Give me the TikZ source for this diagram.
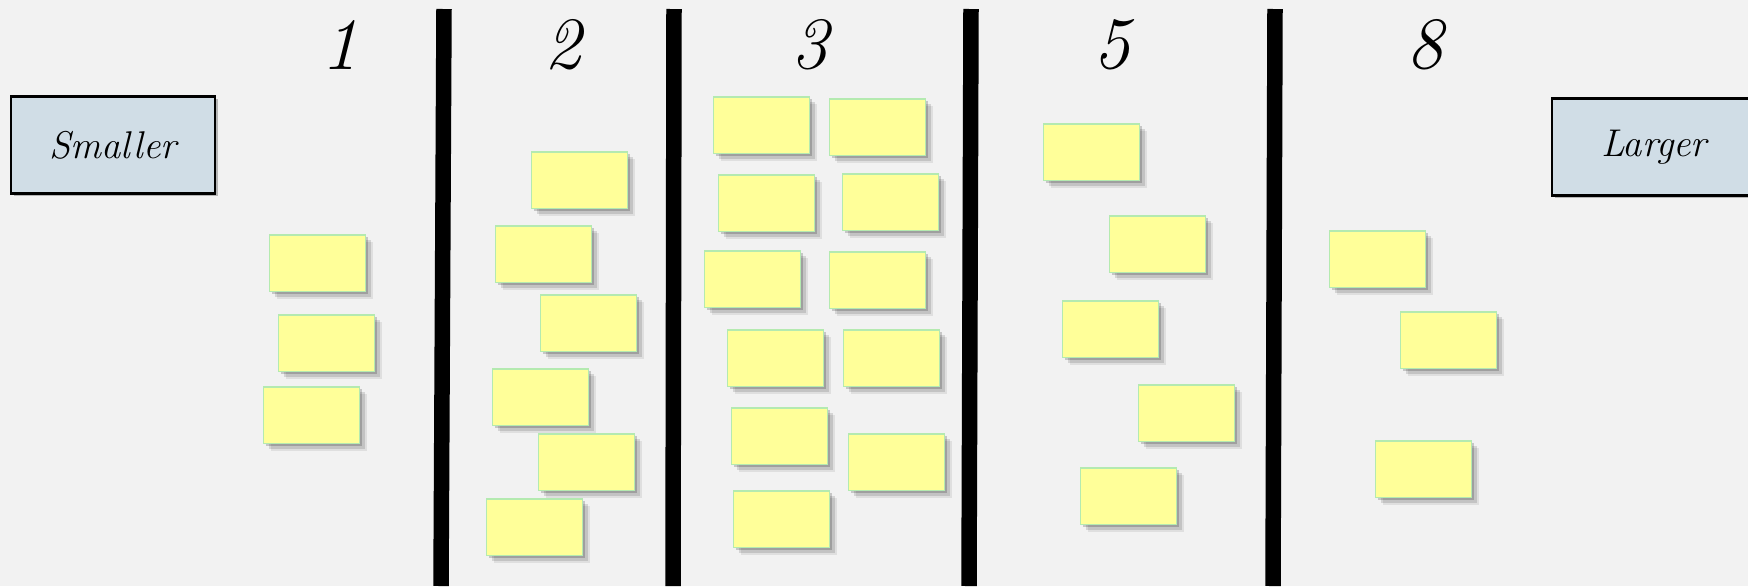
\documentclass[tikz,border=0pt]{standalone}
\usetikzlibrary{shadows}
\definecolor{cboard}{HTML}{F2F2F2}
\definecolor{cnote}{HTML}{FFFF99}
\definecolor{cedge}{HTML}{B4EAB0}
\definecolor{clabel}{HTML}{D0DDE6}
\tikzset{
  every picture/.style={font=\itshape},
  sticky/.style={fill=cnote, draw=cedge, line width=0.4pt, anchor=north west,
    minimum width=1.92cm, minimum height=1.14cm, inner sep=0pt,
    general shadow={fill=black, opacity=0.08, shadow xshift=4.5pt, shadow yshift=-4.5pt},
    general shadow={fill=black, opacity=0.12, shadow xshift=3pt, shadow yshift=-3pt},
    general shadow={fill=black, opacity=0.18, shadow xshift=1.5pt, shadow yshift=-1.5pt},
    path picture={\draw[cedge, line width=1.6pt] (path picture bounding box.north west) -- (path picture bounding box.north east);}},
  sizebox/.style={draw=black, line width=1.2pt, fill=clabel, minimum width=4.08cm, minimum height=1.94cm,
    font=\fontsize{22}{26}\selectfont\itshape,
    general shadow={fill=black, opacity=0.25, shadow xshift=1.5pt, shadow yshift=-1.5pt}},
  points/.style={font=\fontsize{42}{42}\selectfont\itshape},
  divider/.style={draw=black, line width=0.31cm},
}

\begin{document}
\begin{tikzpicture}[x=0.02cm, y=-0.02cm]
  \useasboundingbox (0,0) rectangle (1748,586);
  \fill[cboard] (0,0) rectangle (1748,586);
  % columns
  \draw[divider] (444,9) -- (441,586);
  \draw[divider] (674,9) -- (673,586);
  \draw[divider] (971,9) -- (969,586);
  \draw[divider] (1275,9) -- (1273,586);
  % story points
  \node[points] (h1) at (340,45) {1};
  \node[points] (h2) at (563,45) {2};
  \node[points] (h3) at (810,45) {3};
  \node[points] (h5) at (1112,45) {5};
  \node[points] (h8) at (1425,45) {8};
  % ends of the scale
  \node[sizebox] (small) at (113,145) {Smaller};
  \node[sizebox] (large) at (1654,147) {Larger};
  % 1
  \node[sticky] (a1) at (269,234) {}; \node[sticky] (a2) at (278,314) {};
  \node[sticky] (a3) at (263,386) {};
  % 2
  \node[sticky] (b1) at (531,151) {}; \node[sticky] (b2) at (495,225) {};
  \node[sticky] (b3) at (540,294) {}; \node[sticky] (b4) at (492,368) {};
  \node[sticky] (b5) at (538,433) {}; \node[sticky] (b6) at (486,498) {};
  % 3
  \node[sticky] (c1) at (713,96) {};  \node[sticky] (c2) at (829,98) {};
  \node[sticky] (c3) at (718,174) {}; \node[sticky] (c4) at (842,173) {};
  \node[sticky] (c5) at (704,250) {}; \node[sticky] (c6) at (829,251) {};
  \node[sticky] (c7) at (727,329) {}; \node[sticky] (c8) at (843,329) {};
  \node[sticky] (c9) at (731,407) {}; \node[sticky] (c10) at (848,433) {};
  \node[sticky] (c11) at (733,490) {};
  % 5
  \node[sticky] (d1) at (1043,123) {}; \node[sticky] (d2) at (1109,215) {};
  \node[sticky] (d3) at (1062,300) {}; \node[sticky] (d4) at (1138,384) {};
  \node[sticky] (d5) at (1080,467) {};
  % 8
  \node[sticky] (e1) at (1329,230) {}; \node[sticky] (e2) at (1400,311) {};
  \node[sticky] (e3) at (1375,440) {};
\end{tikzpicture}
\end{document}
